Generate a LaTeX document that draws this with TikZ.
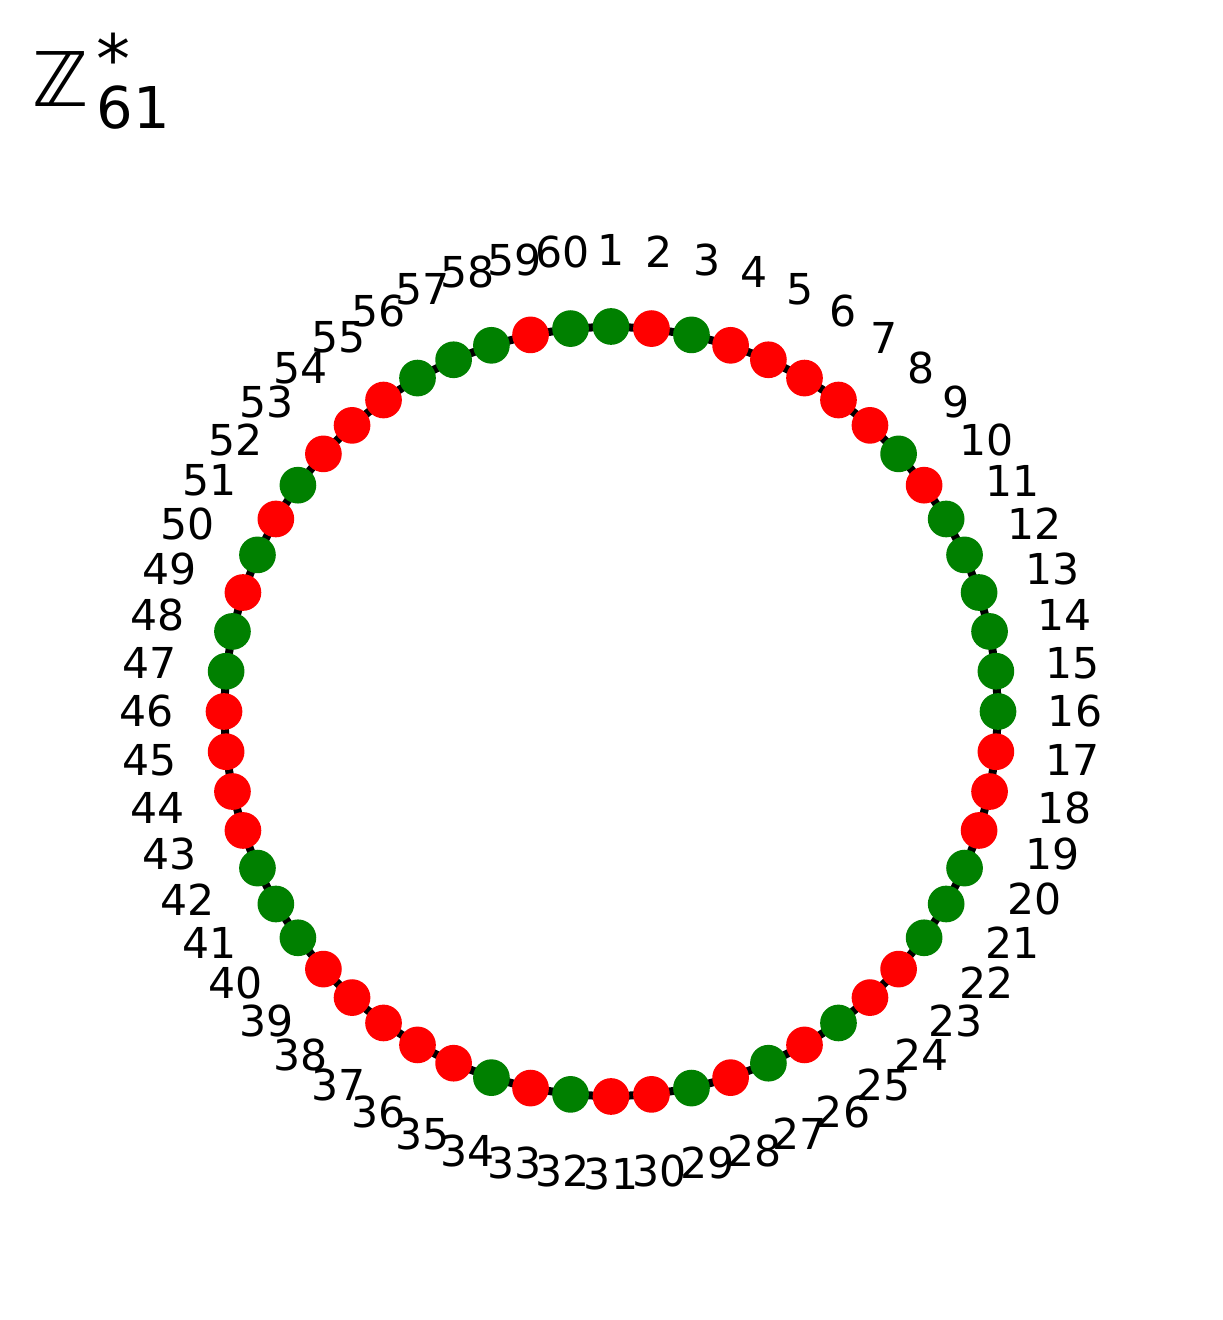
\documentclass[tikz,border=0pt]{standalone}
\usepackage{fontspec}
\setmainfont{DejaVu Sans}
\usepackage{tikz}
\definecolor{mplgreen}{HTML}{008000}
\definecolor{mplred}{HTML}{FF0000}
\pgfdeclarelayer{bg}
\pgfsetlayers{bg,main}

\begin{document}
\begin{tikzpicture}[
        x=0.5pt, y=0.5pt,
        vx/.style={circle,inner sep=0pt,minimum size=18.35pt},
        gvx/.style={vx,fill=mplgreen},
        rvx/.style={vx,fill=mplred},
        lab/.style={inner sep=0pt,font=\fontsize{21.3}{24}\selectfont},
        edge/.style={line width=4pt,black}
      ]
      \useasboundingbox (0,0) rectangle (1222,1320);
      \def\ngon{60}
      % title
      \node[anchor=base west,inner sep=0pt,font=\fontsize{37.7}{40}\selectfont] (zz) at (32,1213) {ℤ};
      \node[anchor=base west,inner sep=0pt,font=\fontsize{28.8}{30}\selectfont] (sub) at (96,1191) {61};
      \node[anchor=base west,inner sep=0pt,font=\fontsize{34}{36}\selectfont] (star) at (96,1236) {*};
      % vertices and their labels
      \foreach\x/\c in {1/gvx,2/rvx,3/gvx,4/rvx,5/rvx,6/rvx,7/rvx,8/rvx,9/gvx,10/rvx,
                        11/gvx,12/gvx,13/gvx,14/gvx,15/gvx,16/gvx,17/rvx,18/rvx,19/rvx,20/gvx,
                        21/gvx,22/gvx,23/rvx,24/rvx,25/gvx,26/rvx,27/gvx,28/rvx,29/gvx,30/rvx,
                        31/rvx,32/gvx,33/rvx,34/gvx,35/rvx,36/rvx,37/rvx,38/rvx,39/rvx,40/gvx,
                        41/gvx,42/gvx,43/rvx,44/rvx,45/rvx,46/rvx,47/gvx,48/gvx,49/rvx,50/gvx,
                        51/rvx,52/gvx,53/rvx,54/rvx,55/rvx,56/gvx,57/gvx,58/gvx,59/rvx,60/gvx}{
        \pgfmathsetmacro\a{90-(\x-1)*6}
        \node[\c] (v\x) at ({611+387*cos(\a)},{608.5+385*sin(\a)}) {};
        \node[lab] (t\x) at ({611+464*cos(\a)},{608.5+462*sin(\a)}) {\x};
      }
      \begin{pgfonlayer}{bg}
        \foreach\i in {1,...,\ngon}{
          \pgfmathtruncatemacro\j{mod(\i,\ngon)+1}
          \draw[edge] (v\i.center) -- (v\j.center);
        }
      \end{pgfonlayer}
    \end{tikzpicture}
\end{document}
